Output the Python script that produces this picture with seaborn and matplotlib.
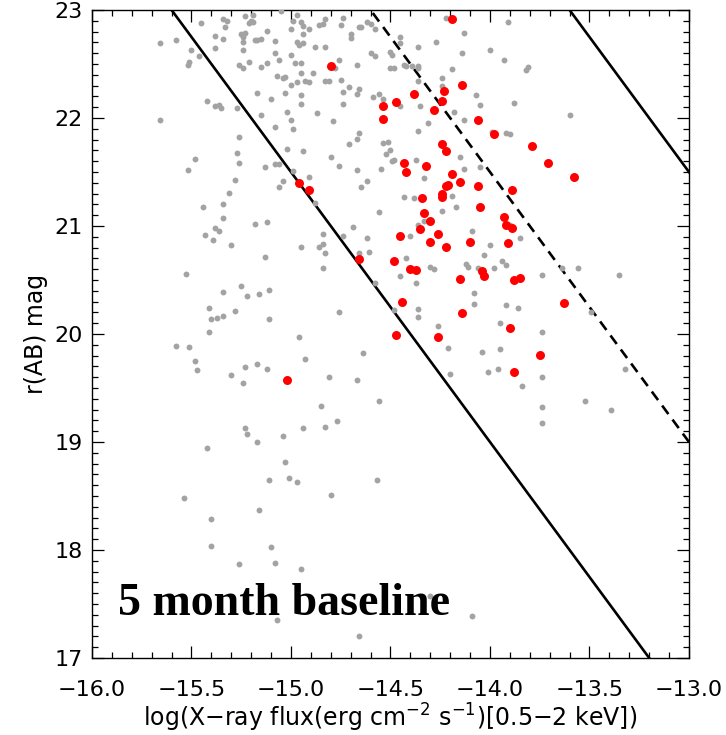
import numpy as np
import pandas as pd
import matplotlib
matplotlib.use("Agg")
import matplotlib.pyplot as plt
import seaborn as sns
from matplotlib.ticker import MultipleLocator, FuncFormatter

# Full X-ray catalogue: log soft-band flux vs r(AB) magnitude
gray_x = [
    -15.45, -15.34, -15.32, -15.33, -15.23, -15.19, -15.20, -15.21, -15.19, -15.05,
    -14.97, -14.99, -14.95, -14.94, -14.91, -15.00, -14.94, -15.12, -15.25, -15.23,
    -15.24, -15.38, -15.34, -15.24, -15.18, -15.17, -15.15, -15.08, -14.97, -14.96,
    -14.94, -15.66, -15.58, -15.50, -15.38, -15.24, -15.46, -15.51, -15.52, -15.26,
    -15.24, -15.21, -15.15, -15.12, -15.08, -15.06, -15.00, -14.98, -14.95, -14.95,
    -15.07, -15.04, -15.03, -15.00, -14.97, -14.93, -14.91, -15.17, -15.10, -15.03,
    -14.95, -14.95, -15.42, -15.38, -15.36, -15.35, -15.27, -15.15, -15.02, -15.00,
    -15.66, -15.08, -14.99, -15.26, -15.27, -15.26, -15.02, -14.94, -15.48, -15.52,
    -15.13, -15.08, -15.06, -14.99, -15.28, -15.04, -15.06, -14.91, -15.31, -15.44,
    -15.34,
    -14.83, -14.84, -14.86, -14.74, -14.75, -14.66, -14.65, -14.70, -14.70, -14.62,
    -14.60, -14.58, -14.45, -14.45, -14.22, -14.13, -14.27, -14.36, -14.88, -14.83,
    -14.60, -14.58, -14.50, -14.49, -14.14, -14.00, -14.76, -14.78, -14.67, -14.89,
    -14.43, -14.42, -14.39, -14.36, -14.36, -14.50, -14.48, -14.19, -14.24, -14.24,
    -14.36, -14.83, -14.81, -14.75, -14.71, -14.66, -14.67, -14.74, -14.59, -14.56,
    -14.54, -14.74, -14.45, -14.35, -14.18, -14.07, -14.05, -14.87, -14.79, -14.31,
    -14.36, -14.13, -13.99, -14.66, -14.67, -14.71, -14.54, -14.51, -14.52, -14.50,
    -14.48, -14.49, -14.37, -14.80, -14.76, -14.67, -14.55, -14.15, -14.13, -14.05,
    -14.62, -14.65, -14.33, -14.19, -14.43, -14.38, -14.17, -14.24, -14.56, -14.88,
    -13.91, -13.93, -13.81, -13.82, -13.88, -13.60, -13.92, -13.90,
    -15.34, -15.18, -15.12, -15.38, -15.36, -15.43, -15.39, -15.30, -14.95, -15.13,
    -15.53, -15.25, -15.34, -15.22, -15.16, -15.11, -15.41, -15.40, -15.37, -15.34,
    -15.28, -15.11, -15.41, -14.96, -15.58, -15.51, -15.48, -15.47, -15.23, -15.17,
    -15.12, -15.30, -15.24, -14.93, -15.23, -14.94,
    -14.84, -14.84, -14.86, -14.83, -14.84, -14.74, -14.69, -14.62, -14.61, -14.66,
    -14.58, -14.76, -14.64, -14.81, -14.67, -14.56, -14.85, -14.77, -14.83, -14.40,
    -14.36, -14.33, -14.42, -14.45, -14.37, -14.30, -14.28, -14.36, -14.36, -14.26,
    -14.21, -14.20, -14.48, -14.09, -14.00, -14.03, -14.12, -14.11, -14.06, -13.98,
    -14.08, -14.08, -13.95, -14.04, -13.95, -13.96, -14.01,
    -13.90, -13.85, -13.94, -13.92, -13.74, -13.64, -13.56, -13.35, -13.92, -13.86,
    -13.49, -13.74, -13.32, -13.74, -13.84, -13.52, -13.39, -13.74, -13.74,
    -15.22, -15.17, -15.04, -15.42, -15.03, -15.11, -15.01, -14.97, -15.54, -15.16,
    -15.40, -15.40, -15.10, -15.26, -15.08, -14.95, -15.07,
    -14.57, -14.80, -14.30, -14.09, -14.66,
]
gray_y = [
    22.88, 22.92, 22.90, 22.84, 22.94, 22.95, 22.90, 22.88, 22.89, 22.99,
    22.95, 22.90, 22.89, 22.85, 22.82, 22.82, 22.78, 22.81, 22.78, 22.79,
    22.75, 22.76, 22.73, 22.70, 22.72, 22.72, 22.73, 22.71, 22.70, 22.68,
    22.69, 22.69, 22.72, 22.63, 22.65, 22.63, 22.57, 22.52, 22.49, 22.49,
    22.46, 22.52, 22.47, 22.51, 22.60, 22.54, 22.58, 22.51, 22.51, 22.42,
    22.39, 22.37, 22.38, 22.31, 22.33, 22.34, 22.33, 22.23, 22.18, 22.23,
    22.21, 22.13, 22.16, 22.11, 22.12, 22.09, 22.09, 22.03, 22.06, 21.98,
    21.98, 21.92, 21.90, 21.82, 21.68, 21.58, 21.71, 21.69, 21.62, 21.52,
    21.55, 21.57, 21.57, 21.51, 21.43, 21.42, 21.36, 21.45, 21.31, 21.18,
    21.20,
    22.92, 22.87, 22.86, 22.93, 22.86, 22.84, 22.84, 22.78, 22.74, 22.89,
    22.87, 22.82, 22.75, 22.69, 22.93, 22.79, 22.70, 22.66, 22.66, 22.66,
    22.60, 22.57, 22.61, 22.58, 22.60, 22.63, 22.54, 22.46, 22.49, 22.42,
    22.49, 22.48, 22.48, 22.48, 22.46, 22.46, 22.46, 22.45, 22.37, 22.30,
    22.34, 22.34, 22.34, 22.35, 22.29, 22.27, 22.22, 22.24, 22.19, 22.22,
    22.18, 22.13, 22.11, 22.11, 22.06, 22.21, 22.12, 22.05, 21.97, 21.95,
    21.88, 21.98, 21.87, 21.86, 21.81, 21.76, 21.77, 21.78, 21.67, 21.70,
    21.61, 21.60, 21.61, 21.64, 21.56, 21.52, 21.53, 21.64, 21.53, 21.55,
    21.42, 21.36, 21.44, 21.28, 21.27, 21.26, 21.18, 21.14, 21.13, 21.21,
    22.89, 22.54, 22.47, 22.44, 22.14, 22.03, 21.86, 21.85,
    21.07, 21.02, 21.04, 20.98, 20.95, 20.92, 20.87, 20.82, 20.81, 20.71,
    20.56, 20.44, 20.39, 20.35, 20.37, 20.41, 20.24, 20.14, 20.15, 20.17,
    20.21, 20.14, 20.02, 19.97, 19.89, 19.88, 19.75, 19.67, 19.69, 19.72,
    19.68, 19.62, 19.55, 19.77, 19.13, 19.13,
    20.93, 20.83, 20.81, 20.75, 20.61, 20.91, 20.99, 20.89, 20.76, 20.75,
    20.47, 20.20, 19.82, 19.60, 19.57, 19.38, 19.33, 19.19, 19.14, 20.91,
    21.01, 21.05, 20.70, 20.54, 20.47, 20.62, 20.60, 20.23, 20.16, 20.07,
    19.87, 19.63, 20.22, 20.95, 20.82, 20.73, 20.65, 20.62, 20.61, 20.61,
    20.38, 20.28, 20.10, 19.83, 19.86, 19.68, 19.65,
    21.01, 20.89, 20.68, 20.64, 20.55, 20.61, 20.61, 20.55, 20.27, 20.24,
    20.20, 20.02, 19.68, 19.60, 19.52, 19.38, 19.30, 19.32, 19.18,
    19.07, 19.00, 19.06, 18.94, 18.81, 18.65, 18.67, 18.63, 18.48, 18.37,
    18.29, 18.04, 18.03, 17.87, 17.88, 17.82, 17.35,
    18.65, 18.51, 17.57, 17.39, 17.20,
]

# Sources varying over the 5 month baseline
red_x = [
    -14.96, -14.91,
    -14.19, -14.80, -14.14, -14.38, -14.23, -14.24, -14.47, -14.54, -14.28, -14.54,
    -14.06, -13.98, -14.24, -14.22, -14.43, -14.32, -14.42, -14.19, -14.21, -14.22,
    -14.15, -14.06, -14.24, -14.24, -14.34, -14.05, -14.33,
    -13.79, -13.71, -13.58, -13.89,
    -15.02,
    -14.30, -14.35, -14.45, -14.26, -14.30, -14.22, -14.10, -14.66, -14.48, -14.40,
    -14.37, -14.15, -14.04, -14.03, -14.44, -14.14, -14.47, -14.26,
    -13.93, -13.92, -13.89, -13.91, -13.88, -13.85, -13.63, -13.90, -13.75, -13.88,
]
red_y = [
    21.40, 21.33,
    22.92, 22.48, 22.31, 22.22, 22.25, 22.16, 22.15, 22.11, 22.07, 21.99,
    21.98, 21.85, 21.76, 21.69, 21.58, 21.56, 21.50, 21.48, 21.38, 21.37,
    21.41, 21.37, 21.30, 21.27, 21.26, 21.18, 21.12,
    21.74, 21.58, 21.45, 21.33,
    19.57,
    21.05, 20.97, 20.91, 20.93, 20.85, 20.81, 20.85, 20.69, 20.68, 20.60,
    20.59, 20.51, 20.58, 20.54, 20.30, 20.19, 19.99, 19.97,
    21.08, 21.01, 20.98, 20.84, 20.50, 20.52, 20.29, 20.06, 19.81, 19.65,
]

# Constant X-ray-to-optical flux ratio loci: log(fX/fopt) = log fX + r/2.5 + zero_point
ratio_levels = [-1, 0, 1]
zero_point = 5.4
flux_span = [-16.5, -12.5]

x_ticks = [-16.0, -15.5, -15.0, -14.5, -14.0, -13.5, -13.0]
y_ticks = [17, 18, 19, 20, 21, 22, 23]

sns.set_style("ticks")
plt.rcParams["font.family"] = ["DejaVu Sans"]
plt.rcParams["mathtext.fontset"] = "dejavusans"
plt.rcParams["text.color"] = "black"
plt.rcParams["axes.labelcolor"] = "black"
plt.rcParams["xtick.color"] = "black"
plt.rcParams["ytick.color"] = "black"

fig = plt.figure(figsize=(7.26, 7.35), dpi=100)
ax = fig.add_axes([0.1267, 0.1048, 0.8223, 0.8816])

lines = pd.DataFrame(
    [(lvl, fx, 2.5 * (lvl - fx - zero_point)) for lvl in ratio_levels for fx in flux_span],
    columns=["level", "flux", "rmag"],
)
sns.lineplot(
    data=lines, x="flux", y="rmag", style="level",
    dashes={-1: "", 0: (4, 2.6), 1: ""},
    color="black", linewidth=1.9, legend=False, estimator=None, sort=False,
    ax=ax, zorder=2,
)

all_src = pd.DataFrame({"flux": gray_x, "rmag": gray_y})
var_src = pd.DataFrame({"flux": red_x, "rmag": red_y})
sns.scatterplot(data=all_src, x="flux", y="rmag", color="#a3a3a3", s=18,
                linewidth=0, ax=ax, zorder=3)
sns.scatterplot(data=var_src, x="flux", y="rmag", color="#ff0000", s=42,
                linewidth=0, ax=ax, zorder=4)

ax.set_xlim(x_ticks[0], x_ticks[-1])
ax.set_ylim(y_ticks[0], y_ticks[-1])
ax.set_xticks(x_ticks)
ax.set_yticks(y_ticks)
ax.xaxis.set_minor_locator(MultipleLocator(0.1))
ax.yaxis.set_minor_locator(MultipleLocator(0.1))
ax.xaxis.set_major_formatter(FuncFormatter(lambda v, _: f"{v:.1f}".replace("-", "\u2212")))
ax.yaxis.set_major_formatter(FuncFormatter(lambda v, _: f"{v:.0f}"))
ax.tick_params(which="both", direction="in", top=True, right=True,
               color="black", width=0.9)
ax.tick_params(which="major", length=8.5, labelsize=16)
ax.tick_params(axis="x", which="major", pad=16)
ax.tick_params(axis="y", which="major", pad=6.5)
ax.tick_params(which="minor", length=4.5)
for sp in ax.spines.values():
    sp.set_color("black")
    sp.set_linewidth(1.0)

ax.set_xlabel(r"log(X$-$ray flux(erg cm$^{-2}$ s$^{-1}$)[0.5$-$2 keV])",
              fontsize=17, labelpad=1)
ax.set_ylabel("r(AB) mag", fontsize=17, labelpad=5)

ax.text(-15.87, 17.40, "5 month baseline", fontfamily="Liberation Serif",
        fontweight="bold", fontsize=33, va="baseline", ha="left",
        color="black", zorder=5)

fig.savefig("out.png", dpi=100)
